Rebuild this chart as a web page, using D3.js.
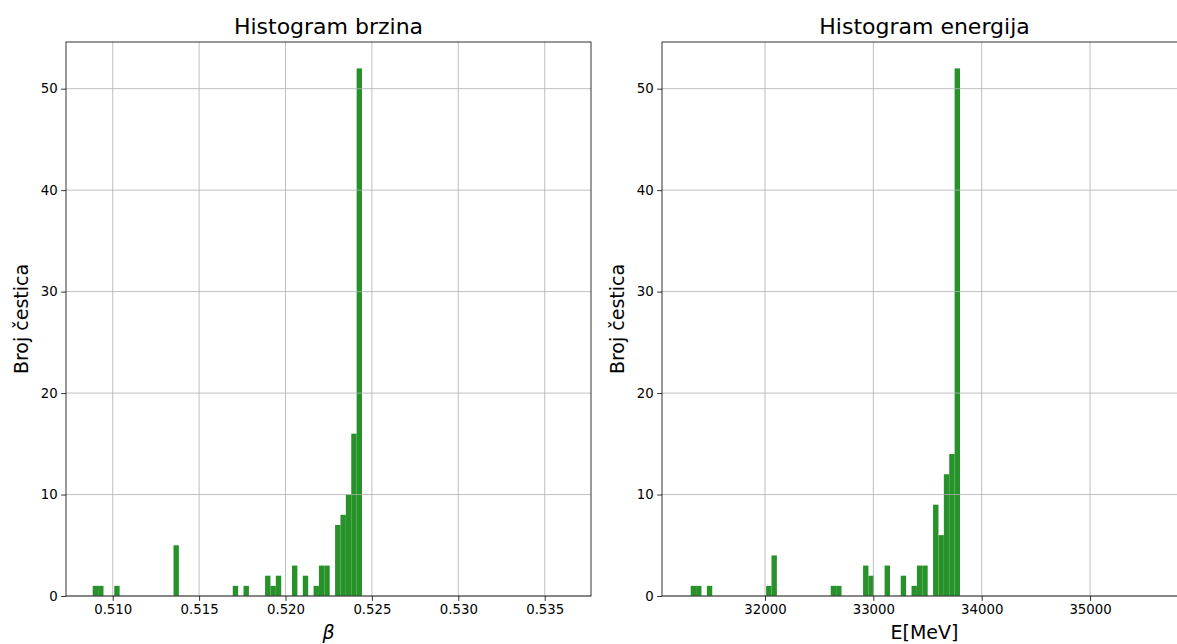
<!DOCTYPE html>
<html><head><meta charset="utf-8">
<script src="https://cdn.jsdelivr.net/npm/d3@7"></script>
<style>body{margin:0;background:#fff;} svg{display:block;} text{font-family:"DejaVu Sans",sans-serif;fill:#000;}</style>
</head><body>
<svg id="c" width="1177" height="644"></svg>
<script>
// ---- data ----
const betaBinStart = 0.508843;
const betaBinWidth = 0.0003117;
const betaCounts = [1,1,0,0,1,0,0,0,0,0, 0,0,0,0,0,5,0,0,0,0, 0,0,0,0,0,0,1,0,1,0, 0,0,2,1,2,0,0,3,0,2, 0,1,3,3,0,7,8,10,16,52];
const betaDomain = [0.507297, 0.537679];
const betaTicks = [0.510, 0.515, 0.520, 0.525, 0.530, 0.535];

const energyBinStart = 31314.3;
const energyBinWidth = 49.71;
const energyCounts = [1,1,0,1,0,0,0,0,0,0, 0,0,0,0,1,4,0,0,0,0, 0,0,0,0,0,0,1,1,0,0, 0,0,3,2,0,0,3,0,0,2, 0,1,3,3,0,9,6,12,14,52];
const energyDomain = [31049.4, 35894.8];
const energyTicks = [32000, 33000, 34000, 35000];

const yTicks = [0, 10, 20, 30, 40, 50];
const yMax = 54.6;

const titles = ["Histogram brzina", "Histogram energija"];
const xLabels = ["β", "E[MeV]"];
const yLabel = "Broj čestica";

// ---- drawing ----
const svg = d3.select("#c");
const plotTop = 42, plotBottom = 596;
const barColor = "#27922a";
const gridColor = "#b0b0b0";

function panel(left, right, counts, binStart, binWidth, domain, ticks, fmt, title, xLabel, italic) {
  const x = d3.scaleLinear().domain(domain).range([left, right]);
  const y = d3.scaleLinear().domain([0, yMax]).range([plotBottom, plotTop]);
  const g = svg.append("g");

  // bars
  const bins = counts.map((c, i) => ({c, x0: binStart + i*binWidth, x1: binStart + (i+1)*binWidth})).filter(d => d.c > 0);
  g.selectAll("rect.bar").data(bins).enter().append("rect")
    .attr("x", d => x(d.x0)).attr("width", d => x(d.x1) - x(d.x0))
    .attr("y", d => y(d.c)).attr("height", d => y(0) - y(d.c))
    .attr("fill", barColor);

  // grid
  g.selectAll("line.vg").data(ticks).enter().append("line")
    .attr("x1", d => x(d)).attr("x2", d => x(d)).attr("y1", plotTop).attr("y2", plotBottom)
    .attr("stroke", gridColor).attr("stroke-width", 0.8);
  g.selectAll("line.hg").data(yTicks).enter().append("line")
    .attr("x1", left).attr("x2", right).attr("y1", d => y(d)).attr("y2", d => y(d))
    .attr("stroke", gridColor).attr("stroke-width", 0.8);

  // axes
  const xa = d3.axisBottom(x).tickValues(ticks).tickFormat(fmt).tickSize(4.9).tickPadding(3.5);
  const ya = d3.axisLeft(y).tickValues(yTicks).tickFormat(d3.format("d")).tickSize(4.9).tickPadding(3.5);
  const gx = g.append("g").attr("transform", `translate(0,${plotBottom})`).call(xa);
  const gy = g.append("g").attr("transform", `translate(${left},0)`).call(ya);
  [gx, gy].forEach(a => {
    a.select(".domain").remove();
    a.selectAll(".tick line").attr("stroke", "#000").attr("stroke-width", 0.8);
    a.selectAll(".tick text").style("font-size", "13.3px").style("font-family", "DejaVu Sans").attr("fill", "#000");
  });

  // frame
  g.append("rect").attr("x", left).attr("y", plotTop).attr("width", right - left).attr("height", plotBottom - plotTop)
    .attr("fill", "none").attr("stroke", "#000").attr("stroke-width", 0.8);

  // title
  g.append("text").attr("x", (left + right) / 2).attr("y", 34).attr("text-anchor", "middle")
    .style("font-size", "22px").text(title);
  // x label
  g.append("text").attr("x", (left + right) / 2).attr("y", 639).attr("text-anchor", "middle")
    .style("font-size", "19px").style("font-style", italic ? "italic" : "normal").text(xLabel);
  // y label
  g.append("text").attr("transform", `translate(${left - 38},${(plotTop + plotBottom) / 2}) rotate(-90)`)
    .attr("text-anchor", "middle").style("font-size", "19px").text(yLabel);
}

panel(66, 591, betaCounts, betaBinStart, betaBinWidth, betaDomain, betaTicks, d3.format(".3f"), titles[0], xLabels[0], true);
panel(662, 1187, energyCounts, energyBinStart, energyBinWidth, energyDomain, energyTicks, d3.format("d"), titles[1], xLabels[1], false);
</script>
</body></html>
